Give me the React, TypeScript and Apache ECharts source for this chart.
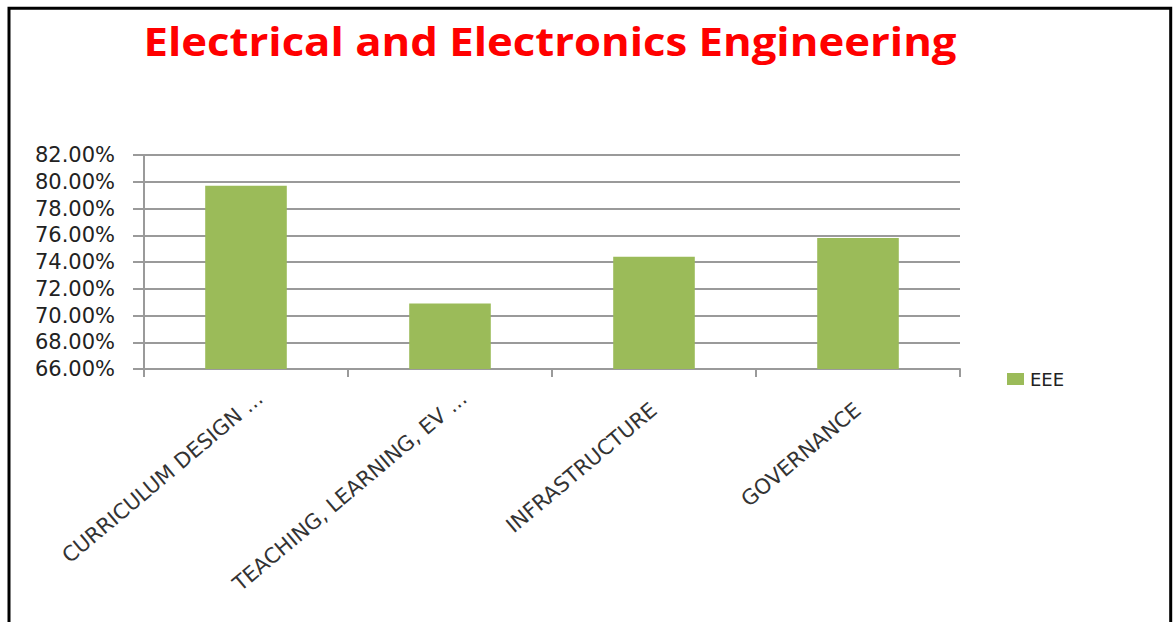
import React, { useEffect, useRef } from "react";
import * as echarts from "echarts";

const chartTitle = "Electrical and Electronics Engineering";
const categories = [
  "CURRICULUM DESIGN ...",
  "TEACHING, LEARNING, EV ...",
  "INFRASTRUCTURE",
  "GOVERNANCE",
];
const truncated = [true, true, false, false];
const seriesName = "EEE";
const eeeValues = [79.7, 70.9, 74.4, 75.8];
const yMin = 66;
const yMax = 82;
const yStep = 2;

export default function App() {
  const ref = useRef<HTMLDivElement>(null);
  useEffect(() => {
    if (!ref.current) return;
    const chart = echarts.init(ref.current, null, { renderer: "svg" });
    chart.setOption({
      animation: false,
      backgroundColor: "#ffffff",
      graphic: [
        {
          type: "rect",
          shape: { x: 9, y: 8.3, width: 1161.7, height: 700 },
          style: { fill: "none", stroke: "#000000", lineWidth: 3 },
          silent: true,
        },
        {
          type: "text",
          x: 550,
          y: 41,
          scaleX: 1.12,
          originX: 0,
          style: {
            text: chartTitle,
            fill: "#ff0000",
            font: "bold 39px 'Open Sans'",
            textAlign: "center",
            textVerticalAlign: "middle",
          },
        },
      ],
      legend: {
        data: [seriesName],
        left: 1002,
        top: 365,
        orient: "vertical",
        icon: "rect",
        itemWidth: 17,
        itemHeight: 12,
        itemGap: 10,
        textStyle: {
          fontFamily: "DejaVu Sans",
          fontSize: 18,
          color: "#222222",
          padding: [0, 0, 0, 1],
        },
      },
      grid: {
        left: 144,
        right: 214,
        top: 155,
        bottom: 253,
        containLabel: false,
      },
      xAxis: {
        type: "category",
        data: categories.map((c, i) =>
          truncated[i]
            ? { value: c, textStyle: { padding: [0, -18, 0, 0] } }
            : c
        ),
        axisLine: { show: true, lineStyle: { color: "#9a9a9a", width: 2 } },
        axisTick: {
          show: true,
          alignWithLabel: false,
          length: 8,
          lineStyle: { color: "#9a9a9a", width: 2 },
        },
        axisLabel: {
          interval: 0,
          rotate: 40,
          margin: 38,
          fontFamily: "DejaVu Sans",
          fontSize: 21,
          color: "#333333",
        },
      },
      yAxis: {
        type: "value",
        min: yMin,
        max: yMax,
        interval: yStep,
        axisLine: { show: true, lineStyle: { color: "#9a9a9a", width: 2 } },
        axisTick: {
          show: true,
          length: 11,
          lineStyle: { color: "#9a9a9a", width: 2 },
        },
        splitLine: { show: true, lineStyle: { color: "#9a9a9a", width: 2 } },
        axisLabel: {
          margin: 29,
          fontFamily: "DejaVu Sans",
          fontSize: 21,
          color: "#222222",
          formatter: (v: number) => v.toFixed(2) + "%",
        },
      },
      series: [
        {
          name: seriesName,
          type: "bar",
          data: eeeValues,
          barWidth: "40%",
          itemStyle: { color: "#9bbb59" },
        },
      ],
    });
    return () => chart.dispose();
  }, []);
  return (
    <div
      ref={ref}
      style={{ position: "absolute", left: 0, top: 0, width: 1174, height: 622 }}
    />
  );
}
